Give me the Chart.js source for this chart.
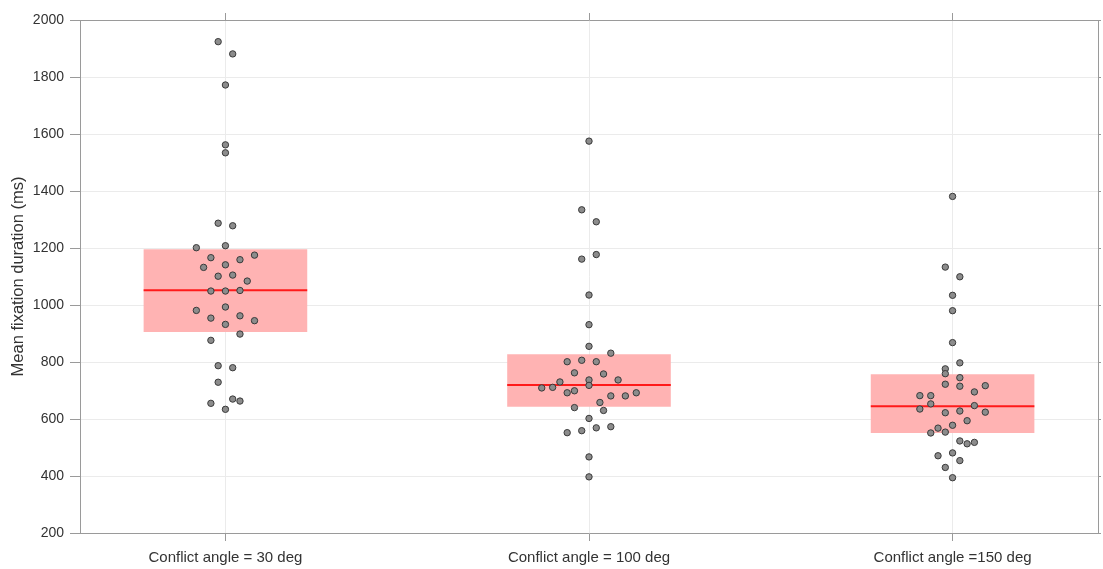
<!DOCTYPE html>
<html>
<head>
<meta charset="utf-8">
<script src="https://cdn.jsdelivr.net/npm/chart.js@4.4.1/dist/chart.umd.min.js"></script>
<style>
  html, body { margin: 0; padding: 0; background: #fff; }
  #wrap { width: 1103px; height: 569px; }
</style>
</head>
<body>
<div id="wrap"><canvas id="myChart" width="1103" height="569"></canvas></div>
<script>
// categories and tick labels
const categories = ['Conflict angle = 30 deg', 'Conflict angle = 100 deg', 'Conflict angle =150 deg'];
const yTicks = [200, 400, 600, 800, 1000, 1200, 1400, 1600, 1800, 2000];

// per-subject means (ms)
const values30 = [1924, 1881, 1772, 1562, 1534, 1287, 1278, 1201, 1208, 1175, 1166, 1159, 1141, 1132, 1101,
  1105, 1084, 1049, 1049, 1051, 993, 981, 954, 962, 945, 932, 898, 876, 787, 780, 729, 655, 670, 663, 634];
const values100 = [1575, 1334, 1292, 1177, 1161, 1035, 931, 855, 831, 801, 806, 801, 762, 758, 730,
  737, 737, 718, 709, 711, 692, 699, 658, 681, 681, 692, 640, 630, 602, 552, 559, 569, 573, 467, 397];
const values150 = [1381, 1133, 1099, 1034, 980, 868, 797, 776, 759, 745, 722, 715, 717, 695, 682,
  682, 653, 647, 635, 622, 628, 624, 594, 578, 568, 551, 554, 523, 513, 518, 471, 481, 454, 430, 394];

// horizontal jitter slot of each point (1 slot = 0.02 category)
const jitter30 = [-1, 1, 0, 0, 0, -1, 1, -4, 0, 4, -2, 2, 0, -3, -1, 1, 3, -2, 0, 2, 0, -4, -2, 2, 4, 0, 2, -2, -1, 1, -1, -2, 1, 2, 0];
const jitter100 = [0, -1, 1, 1, -1, 0, 0, 0, 3, -3, -1, 1, -2, 2, -4, 0, 4, 0, -6.5, -5, -3, -2, 1.5, 3, 5, 6.5, -2, 2, 0, -3, -1, 1, 3, 0, 0];
const jitter150 = [0, -1, 1, 0, 0, 0, 1, -1, -1, 1, -1, 1, 4.5, 3, -4.5, -3, -3, 3, -4.5, -1, 1, 4.5, 2, 0, -2, -3, -1, 1, 2, 3, -2, 0, 1, -1, 0];

// box statistics
const q1 = [905, 643, 551];
const medians = [1052, 719, 645];
const q3 = [1196, 827, 757];

const allValues = [values30, values100, values150];
const allJitter = [jitter30, jitter100, jitter150];

let points = [];
allValues.forEach(function (vals, c) {
  vals.forEach(function (v, i) {
    points.push({ x: c + 1 + allJitter[c][i] * 0.02, y: v });
  });
});

const boxes = q1.map(function (lo, i) { return { x: i + 1, y: [lo, q3[i]] }; });

const txt = '#333333';
const axisGrey = '#9a9a9a';
const gridGrey = '#ebebeb';
const fam = "'Liberation Sans', Arial, Helvetica, sans-serif";

function catTicks(scale) {
  scale.ticks = [1, 2, 3].map(function (v) { return { value: v }; });
}
function valTicks(scale) {
  scale.ticks = yTicks.map(function (v) { return { value: v }; });
}

// median line on top of each box, under the points
const medianPlugin = {
  id: 'medianLines',
  afterDatasetDraw: function (chart, args) {
    if (args.meta.type !== 'bar') return;
    const ctx = chart.ctx;
    const yScale = chart.scales.y;
    ctx.save();
    ctx.strokeStyle = '#ff1a1a';
    ctx.lineWidth = 2;
    args.meta.data.forEach(function (el, i) {
      const p = el.getProps(['x', 'width'], true);
      const y = yScale.getPixelForValue(medians[i]);
      ctx.beginPath();
      ctx.moveTo(p.x - p.width / 2, y);
      ctx.lineTo(p.x + p.width / 2, y);
      ctx.stroke();
    });
    ctx.restore();
  }
};

const config = {
  type: 'scatter',
  data: {
    datasets: [
      {
        type: 'scatter',
        label: 'subjects',
        data: points,
        order: 0,
        pointRadius: 3.2,
        pointBackgroundColor: '#8c8c8c',
        pointBorderColor: '#3a3a3a',
        pointBorderWidth: 1
      },
      {
        type: 'bar',
        label: 'IQR',
        data: boxes,
        order: 1,
        backgroundColor: '#ffb3b3',
        borderWidth: 0,
        grouped: false,
        categoryPercentage: 1,
        barPercentage: 0.45
      }
    ]
  },
  options: {
    responsive: false,
    animation: false,
    devicePixelRatio: 1,
    layout: { padding: 0 },
    plugins: { legend: { display: false }, tooltip: { enabled: false } },
    scales: {
      x: {
        type: 'linear',
        position: 'bottom',
        min: 0.6,
        max: 3.4,
        offset: false,
        afterBuildTicks: catTicks,
        afterFit: function (s) { s.height = 36; },
        ticks: {
          color: txt,
          font: { family: fam, size: 15 },
          padding: 8,
          maxRotation: 0,
          callback: function (v) { return categories[v - 1]; }
        },
        grid: { color: gridGrey, tickColor: axisGrey, tickLength: 8, offset: false },
        border: { color: axisGrey, width: 1 }
      },
      x2: {
        type: 'linear',
        position: 'top',
        min: 0.6,
        max: 3.4,
        afterBuildTicks: catTicks,
        afterFit: function (s) { s.height = 20; },
        ticks: { display: false },
        grid: { drawOnChartArea: false, tickColor: axisGrey, tickLength: 7 },
        border: { color: axisGrey, width: 1 }
      },
      y: {
        type: 'linear',
        position: 'left',
        min: 200,
        max: 2000,
        afterBuildTicks: valTicks,
        afterFit: function (s) { s.width = 80; },
        ticks: {
          color: txt,
          font: { family: fam, size: 14 },
          padding: 6,
          callback: function (v) { return String(v); }
        },
        grid: { color: gridGrey, tickColor: axisGrey, tickLength: 10 },
        border: { color: axisGrey, width: 1 },
        title: {
          display: true,
          text: 'Mean fixation duration (ms)',
          color: txt,
          font: { family: fam, size: 16.5 },
          padding: { top: 9, bottom: 0 }
        }
      },
      y2: {
        type: 'linear',
        position: 'right',
        min: 200,
        max: 2000,
        afterBuildTicks: valTicks,
        afterFit: function (s) { s.width = 3; },
        ticks: { display: false },
        grid: { drawOnChartArea: false, tickColor: axisGrey, tickLength: 3 },
        border: { color: axisGrey, width: 1 }
      }
    }
  },
  plugins: [medianPlugin]
};

const myChart = new Chart(document.getElementById('myChart'), config);
</script>
</body>
</html>
